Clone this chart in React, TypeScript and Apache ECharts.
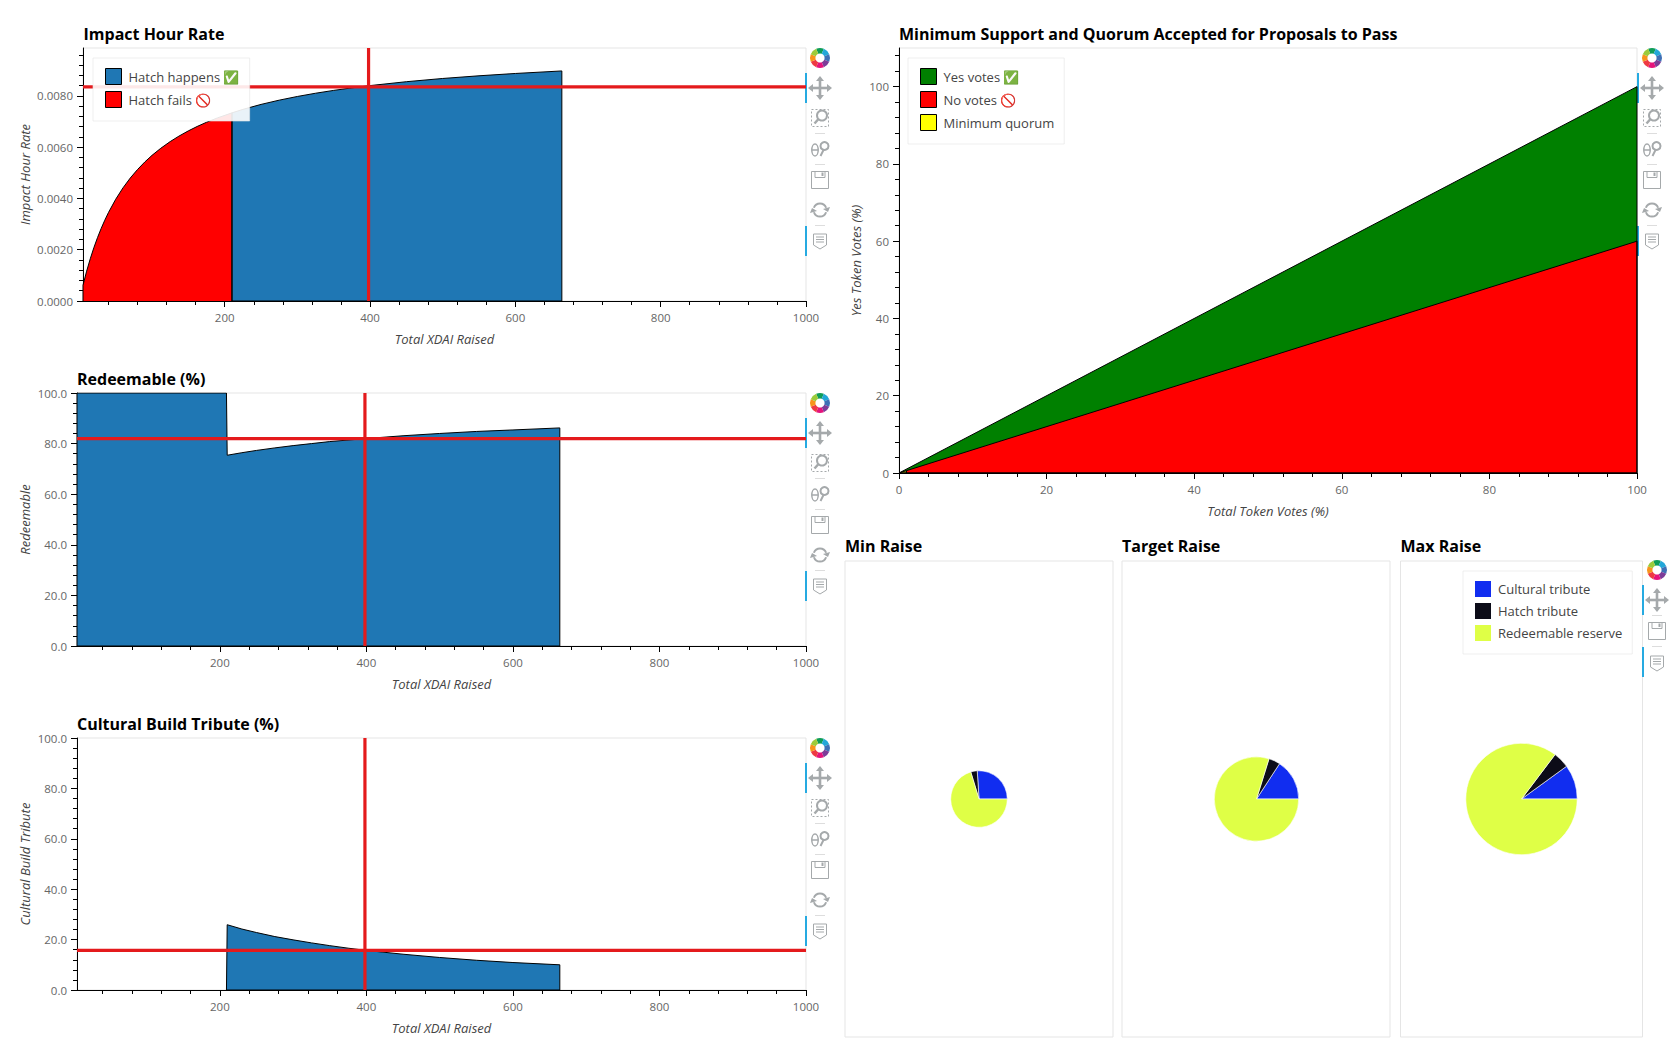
import React, { useEffect, useRef } from "react";
import * as echarts from "echarts";

const FONT = "'Open Sans', 'Noto Color Emoji', 'Noto Sans', sans-serif";

// ---- tick lists ----
const raisedMajor = [200, 400, 600, 800, 1000];
const raisedMinor = [40, 80, 120, 160, 240, 280, 320, 360, 440, 480, 520, 560, 640, 680, 720, 760, 840, 880, 920, 960];
const rateMajor = [0, 0.002, 0.004, 0.006, 0.008];
const rateMinor = [0.0004, 0.0008, 0.0012, 0.0016, 0.0024, 0.0028, 0.0032, 0.0036, 0.0044, 0.0048, 0.0052, 0.0056, 0.0064, 0.0068, 0.0072, 0.0076, 0.0084, 0.0088, 0.0092, 0.0096];
const pctMajor = [0, 20, 40, 60, 80, 100];
const pctMinor = [4, 8, 12, 16, 24, 28, 32, 36, 44, 48, 52, 56, 64, 68, 72, 76, 84, 88, 92, 96];
const voteYMinor = [...pctMinor, 104, 108];

// ---- Impact hour rate ----
const hatchFailsRate = [[5, 0], [5, 0.000617], [10, 0.001163], [15, 0.001648], [20, 0.002083], [25, 0.002475], [30, 0.00283], [35, 0.003153], [40, 0.003448], [50, 0.003968], [60, 0.004412], [70, 0.004795], [80, 0.005128], [90, 0.005422], [100, 0.005682], [112, 0.005957], [125, 0.006219], [137, 0.006432], [150, 0.006637], [162, 0.006807], [175, 0.006972], [190, 0.007143], [210, 0.00734], [210, 0]];
const hatchHappensRate = [[210, 0], [210, 0.00734], [225, 0.007475], [250, 0.007669], [275, 0.007835], [300, 0.007979], [325, 0.008105], [350, 0.008216], [375, 0.008315], [400, 0.008403], [450, 0.008555], [500, 0.008681], [550, 0.008786], [600, 0.008876], [664, 0.008975], [664, 0], [210, 0]];
const rateCrossX = [[398, 0], [398, 0.00987]];
const rateCrossY = [[5, 0.00835], [1000, 0.00835]];

// ---- Redeemable ----
const redeemable = [[5, 0], [5, 100], [209, 100], [210, 75.4], [230, 76.4], [250, 77.3], [275, 78.3], [300, 79.2], [325, 80.0], [350, 80.8], [375, 81.4], [400, 82.0], [450, 83.1], [500, 84.0], [550, 84.8], [600, 85.4], [664, 86.2], [664, 0], [5, 0]];
const redeemCrossX = [[398, 0], [398, 100]];
const redeemCrossY = [[5, 82], [1000, 82]];

// ---- Cultural build tribute ----
const tribute = [[209, 0], [210, 25.9], [230, 24.2], [250, 22.8], [275, 21.2], [300, 19.9], [325, 18.7], [350, 17.6], [375, 16.6], [400, 15.7], [450, 14.2], [500, 12.9], [550, 11.8], [600, 10.9], [664, 10.0], [664, 0], [209, 0]];
const tributeCrossX = [[398, 0], [398, 100]];
const tributeCrossY = [[5, 15.7], [1000, 15.7]];

// ---- Support and quorum ----
const yesVotes = [[0, 0], [100, 100], [100, 0], [0, 0]];
const noVotes = [[1, 0], [1, 0.6], [100, 60], [100, 0], [1, 0]];
const quorum = [[0, 0], [1, 0.6], [1, 0], [0, 0]];

// ---- Pies: cultural tribute, hatch tribute, redeemable reserve (%) ----
const pieNames = ["Cultural tribute", "Hatch tribute", "Redeemable reserve"];
const pieColors = ["#112DF0", "#0C0C18", "#DFFF46"];
const minRaiseShares = [26, 3.7, 70.3];
const targetRaiseShares = [15.8, 4.4, 79.8];
const maxRaiseShares = [10, 4.7, 85.3];

const BLUE = "#1f77b4";
const CROSS = "#e41a1c";
const GREY = "#a5a9ab";

const axisText = { fontFamily: FONT, fontSize: 11.5, color: "#666" };

function baseAxis(common: any, major: number[], fmt: (v: number) => string, name: string, nameGap: number, position: string) {
  return {
    type: "value", min: common.min, max: common.max, position, scale: true,
    name, nameLocation: "middle", nameGap,
    nameTextStyle: { fontFamily: FONT, fontSize: 13, fontStyle: "italic", color: "#444" },
    axisLine: { show: true, onZero: false, lineStyle: { color: "#000", width: 1 } },
    axisTick: { show: true, length: 6, customValues: major, lineStyle: { color: "#000" } },
    axisLabel: { show: true, customValues: major, formatter: fmt, margin: 10, hideOverlap: false, ...axisText },
    splitLine: { show: false },
  };
}
function minorAxis(common: any, minor: number[], position: string) {
  return {
    type: "value", min: common.min, max: common.max, position, scale: true,
    axisLine: { show: false, onZero: false },
    axisTick: { show: true, length: 4, customValues: minor, lineStyle: { color: "#000" } },
    axisLabel: { show: false },
    splitLine: { show: false },
  };
}

function area(name: string, color: string, data: number[][], idx: number, z = 2) {
  return {
    type: "line", name, data, xAxisIndex: idx, yAxisIndex: idx, z,
    showSymbol: false, symbol: "none", smooth: false, clip: true,
    itemStyle: { color },
    lineStyle: { color: "#000", width: 1 },
    areaStyle: { color, opacity: 1 },
  };
}
function cross(data: number[][], idx: number) {
  return {
    type: "line", name: "crosshair", data, xAxisIndex: idx, yAxisIndex: idx, z: 3,
    showSymbol: false, symbol: "none", clip: true,
    lineStyle: { color: CROSS, width: 3.2 },
  };
}

function pie(name: string, shares: number[], center: number[], radius: number) {
  return {
    type: "pie", name, center, radius, startAngle: 0, clockwise: false, z: 2, silent: true,
    label: { show: false }, labelLine: { show: false },
    itemStyle: { borderColor: "#fff", borderWidth: 0.6 },
    data: pieNames.map((n, i) => ({ name: n, value: shares[i], itemStyle: { color: pieColors[i] } })),
  };
}

// ---- toolbar icons (decoration beside each plot) ----
const logoColors = ["#0f9d58", "#22a7d8", "#3e6fb5", "#7d3c98", "#e5137c", "#ee3a43", "#f7941d", "#9ccb3b"];
function logo(x: number, y: number) {
  return {
    type: "group", x, y, silent: true,
    children: logoColors.map((c, i) => ({
      type: "sector",
      shape: { cx: 0, cy: 0, r: 10, r0: 4.6, startAngle: ((-112.5 + i * 45) * Math.PI) / 180, endAngle: ((-67.5 + i * 45) * Math.PI) / 180 },
      style: { fill: c },
    })),
  };
}
const st = { stroke: GREY, fill: "none", lineWidth: 1.5 };
function panIcon(x: number, y: number) {
  const s = { stroke: GREY, lineWidth: 2.6 };
  return {
    type: "group", x, y, silent: true, children: [
      { type: "line", shape: { x1: -7, y1: 0, x2: 7, y2: 0 }, style: s },
      { type: "line", shape: { x1: 0, y1: -7, x2: 0, y2: 7 }, style: s },
      { type: "polygon", shape: { points: [[-4, -7], [4, -7], [0, -12]] }, style: { fill: GREY } },
      { type: "polygon", shape: { points: [[-4, 7], [4, 7], [0, 12]] }, style: { fill: GREY } },
      { type: "polygon", shape: { points: [[-7, -4], [-7, 4], [-12, 0]] }, style: { fill: GREY } },
      { type: "polygon", shape: { points: [[7, -4], [7, 4], [12, 0]] }, style: { fill: GREY } },
    ],
  };
}
function boxZoomIcon(x: number, y: number) {
  return {
    type: "group", x, y, silent: true, children: [
      { type: "rect", shape: { x: -8.5, y: -8.5, width: 17, height: 17 }, style: { stroke: GREY, fill: "none", lineWidth: 1, lineDash: [2, 2] } },
      { type: "circle", shape: { cx: 2, cy: -2.5, r: 5 }, style: { stroke: GREY, fill: "#fff", lineWidth: 2 } },
      { type: "line", shape: { x1: -1.5, y1: 1, x2: -5.5, y2: 5.5 }, style: { stroke: GREY, lineWidth: 2.5 } },
    ],
  };
}
function wheelIcon(x: number, y: number) {
  return {
    type: "group", x, y, silent: true, children: [
      { type: "ellipse", shape: { cx: -5, cy: 1, rx: 3.2, ry: 6 }, style: st },
      { type: "line", shape: { x1: -8, y1: 1, x2: -2, y2: 1 }, style: st },
      { type: "circle", shape: { cx: 4.5, cy: -3, r: 4 }, style: { stroke: GREY, fill: "none", lineWidth: 2 } },
      { type: "line", shape: { x1: 3.5, y1: 1, x2: 0.5, y2: 7 }, style: { stroke: GREY, lineWidth: 2 } },
    ],
  };
}
function saveIcon(x: number, y: number) {
  return {
    type: "group", x, y, silent: true, children: [
      { type: "rect", shape: { x: -8.5, y: -8.5, width: 17, height: 17 }, style: { stroke: GREY, fill: "none", lineWidth: 1 } },
      { type: "rect", shape: { x: -5, y: -8.5, width: 10, height: 6 }, style: { stroke: GREY, fill: "none", lineWidth: 1 } },
      { type: "rect", shape: { x: 1.5, y: -7.5, width: 2, height: 3.5 }, style: { fill: GREY } },
    ],
  };
}
function resetIcon(x: number, y: number) {
  return {
    type: "group", x, y, silent: true, children: [
      { type: "arc", shape: { cx: 0, cy: 0, r: 6.5, startAngle: (200 * Math.PI) / 180, endAngle: (340 * Math.PI) / 180, clockwise: true }, style: { stroke: GREY, fill: "none", lineWidth: 2 } },
      { type: "arc", shape: { cx: 0, cy: 0, r: 6.5, startAngle: (20 * Math.PI) / 180, endAngle: (160 * Math.PI) / 180, clockwise: true }, style: { stroke: GREY, fill: "none", lineWidth: 2 } },
      { type: "polygon", shape: { points: [[3, -1], [8, 2], [10, -3]] }, style: { fill: GREY } },
      { type: "polygon", shape: { points: [[-3, 1], [-8, -2], [-10, 3]] }, style: { fill: GREY } },
    ],
  };
}
function hoverIcon(x: number, y: number) {
  return {
    type: "group", x, y, silent: true, children: [
      { type: "polygon", shape: { points: [[-6.5, -7], [6.5, -7], [6.5, 4], [0, 8], [-6.5, 4]] }, style: { stroke: GREY, fill: "none", lineWidth: 1, lineJoin: "round" } },
      { type: "line", shape: { x1: -4, y1: -4, x2: 4, y2: -4 }, style: { stroke: GREY, lineWidth: 1 } },
      { type: "line", shape: { x1: -4, y1: -1.5, x2: 4, y2: -1.5 }, style: { stroke: GREY, lineWidth: 1 } },
      { type: "line", shape: { x1: -4, y1: 1, x2: 4, y2: 1 }, style: { stroke: GREY, lineWidth: 1 } },
    ],
  };
}
function sep(x: number, y: number) {
  return { type: "line", silent: true, shape: { x1: x - 5, y1: y, x2: x + 5, y2: y }, style: { stroke: "#ddd", lineWidth: 1 } };
}
function bar(x: number, y1: number, y2: number) {
  return { type: "rect", silent: true, shape: { x: x - 1, y: y1, width: 2, height: y2 - y1 }, style: { fill: "#26aae1" } };
}
function fullToolbar(x: number, dy: number, barX: number) {
  return [
    logo(x, 58 + dy), panIcon(x, 88 + dy), boxZoomIcon(x, 118 + dy), sep(x, 133.5 + dy), wheelIcon(x, 149 + dy), sep(x, 164.5 + dy),
    saveIcon(x, 180 + dy), resetIcon(x, 210 + dy), sep(x, 225.5 + dy), hoverIcon(x, 241 + dy),
    bar(barX, 73 + dy, 103 + dy), bar(barX, 226 + dy, 256 + dy),
  ];
}
function pieToolbar(x: number, barX: number) {
  return [logo(x, 570), panIcon(x, 600), sep(x, 615.5), saveIcon(x, 631), sep(x, 646.5), hoverIcon(x, 663), bar(barX, 585, 615), bar(barX, 647, 677)];
}

function title(text: string, left: number, top: number) {
  return { text, left, top, padding: 0, textStyle: { fontFamily: FONT, fontWeight: 700, fontSize: 16, color: "#000" } };
}
const legendBase = {
  orient: "vertical", padding: [10, 10, 13, 12], itemGap: 6, icon: "rect", itemWidth: 16, itemHeight: 16,
  backgroundColor: "rgba(255,255,255,0.9)", borderColor: "rgba(229,229,229,0.6)", borderWidth: 1,
  textStyle: { fontFamily: FONT, fontSize: 13, color: "#444", padding: [0, 0, 0, 2] },
  itemStyle: { borderColor: "#000", borderWidth: 1 }, selectedMode: false, z: 5,
};

const f4 = (v: number) => v.toFixed(4);
const f1 = (v: number) => v.toFixed(1);
const f0 = (v: number) => String(v);

export default function App() {
  const ref = useRef<HTMLDivElement>(null);
  useEffect(() => {
    document.body.style.margin = "0";
    const chart = echarts.init(ref.current!, undefined, { renderer: "svg" });
    const raised = { min: 5, max: 1000 };
    const grids = [
      { left: 83, top: 48, width: 723, height: 253 },
      { left: 77, top: 393, width: 729, height: 253 },
      { left: 77, top: 738, width: 729, height: 252 },
      { left: 899, top: 48, width: 738, height: 425 },
      { left: 845, top: 561, width: 268, height: 476 },
      { left: 1122, top: 561, width: 268, height: 476 },
      { left: 1400.5, top: 561, width: 242, height: 476 },
    ].map((g) => ({ ...g, show: true, borderColor: "#e5e5e5", borderWidth: 1, backgroundColor: "transparent" }));

    const xAxis: any[] = [
      baseAxis(raised, raisedMajor, f0, "Total XDAI Raised", 31, "bottom"),
      baseAxis(raised, raisedMajor, f0, "Total XDAI Raised", 31, "bottom"),
      baseAxis(raised, raisedMajor, f0, "Total XDAI Raised", 31, "bottom"),
      baseAxis({ min: 0, max: 100 }, pctMajor, f0, "Total Token Votes (%)", 31, "bottom"),
    ];
    const yAxis: any[] = [
      baseAxis({ min: 0, max: 0.00987 }, rateMajor, f4, "Impact Hour Rate", 52, "left"),
      baseAxis({ min: 0, max: 100 }, pctMajor, f1, "Redeemable", 46, "left"),
      baseAxis({ min: 0, max: 100 }, pctMajor, f1, "Cultural Build Tribute", 46, "left"),
      baseAxis({ min: 0, max: 110 }, pctMajor, f0, "Yes Token Votes (%)", 37, "left"),
    ];
    for (let i = 0; i < 3; i++) {
      xAxis.push({ type: "value", show: false, min: 0, max: 1 });
      yAxis.push({ type: "value", show: false, min: 0, max: 1 });
    }
    // Minor tick axes share the first four grids.
    const minorX = [raisedMinor, raisedMinor, raisedMinor, pctMinor];
    const minorY = [rateMinor, pctMinor, pctMinor, voteYMinor];
    const ranges = [[raised, { min: 0, max: 0.00987 }], [raised, { min: 0, max: 100 }], [raised, { min: 0, max: 100 }], [{ min: 0, max: 100 }, { min: 0, max: 110 }]];
    xAxis.forEach((a, i) => (a.gridIndex = i));
    yAxis.forEach((a, i) => (a.gridIndex = i));
    minorX.forEach((m, i) => xAxis.push({ ...minorAxis(ranges[i][0], m, "bottom"), gridIndex: i }));
    minorY.forEach((m, i) => yAxis.push({ ...minorAxis(ranges[i][1], m, "left"), gridIndex: i }));

    const series: any[] = [
      area("Hatch happens ✅", BLUE, hatchHappensRate, 0),
      area("Hatch fails 🚫", "#ff0000", hatchFailsRate, 0),
      cross(rateCrossX, 0), cross(rateCrossY, 0),
      area("Redeemable", BLUE, redeemable, 1),
      cross(redeemCrossX, 1), cross(redeemCrossY, 1),
      area("Cultural build tribute", BLUE, tribute, 2),
      cross(tributeCrossX, 2), cross(tributeCrossY, 2),
      area("Yes votes ✅", "#008000", yesVotes, 3),
      area("No votes 🚫", "#ff0000", noVotes, 3),
      area("Minimum quorum", "#ffff00", quorum, 3),
      pie("Min Raise", minRaiseShares, [979, 799], 28.3),
      pie("Target Raise", targetRaiseShares, [1256.5, 799], 42.2),
      pie("Max Raise", maxRaiseShares, [1521.5, 799], 55.7),
    ];

    chart.setOption({
      animation: false,
      backgroundColor: "#fff",
      title: [
        title("Impact Hour Rate", 83.5, 26),
        title("Redeemable (%)", 77, 371),
        title("Cultural Build Tribute (%)", 77, 716),
        title("Minimum Support and Quorum Accepted for Proposals to Pass", 899, 26),
        title("Min Raise", 845, 538),
        title("Target Raise", 1122, 538),
        title("Max Raise", 1400.5, 538),
      ],
      grid: grids,
      xAxis,
      yAxis,
      legend: [
        { ...legendBase, left: 93, top: 58, data: ["Hatch happens ✅", "Hatch fails 🚫"] },
        { ...legendBase, left: 908, top: 58, data: ["Yes votes ✅", "No votes 🚫", "Minimum quorum"] },
        { ...legendBase, left: 1463, top: 571, itemStyle: { borderWidth: 0 }, data: pieNames },
      ],
      series,
      graphic: [
        ...fullToolbar(820, 0, 806),
        ...fullToolbar(820, 345, 806),
        ...fullToolbar(820, 690, 806),
        ...fullToolbar(1652, 0, 1638),
        ...pieToolbar(1657, 1643),
      ],
    });
    return () => chart.dispose();
  }, []);
  return <div ref={ref} style={{ position: "absolute", left: 0, top: 0, width: 1680, height: 1050 }} />;
}
